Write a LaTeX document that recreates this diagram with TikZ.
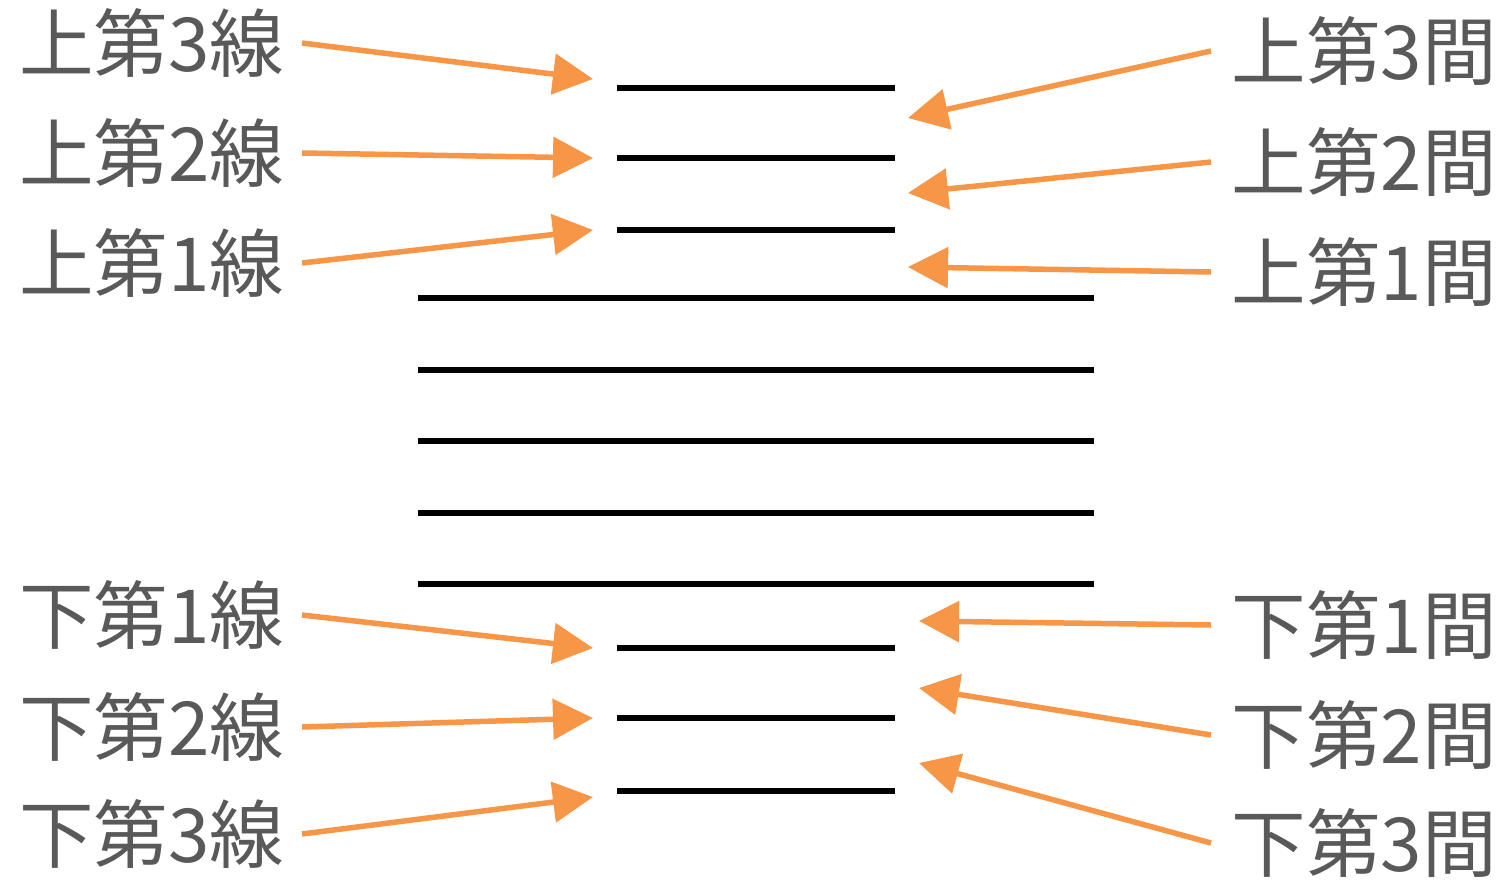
\documentclass[tikz,border=0pt]{standalone}
\usepackage{fontspec}
\setmainfont{Noto Sans CJK JP}
\usepackage{xcolor}
\usetikzlibrary{arrows.meta}
\definecolor{labelgray}{HTML}{595959}
\definecolor{arroworange}{HTML}{F79646}

\begin{document}
\begin{tikzpicture}[x=0.01cm, y=-0.01cm]
    %Line and label styles
    \tikzstyle{staffline} = [line width=0.06cm, black]
    \tikzstyle{ledger} = [line width=0.06cm, black]
    \tikzstyle{lname} = [text=labelgray, font=\fontsize{21.2}{21.2}\selectfont, inner xsep=0.17cm, anchor=east]
    \tikzstyle{rname} = [text=labelgray, font=\fontsize{21.2}{21.2}\selectfont, inner xsep=0.2cm, anchor=west]
    \tikzstyle{pointer} = [draw=arroworange, line width=0.055cm, -{Triangle[length=0.4cm, width=0.4cm]}]

    \useasboundingbox (0,0) rectangle (1501,879);

    %Staff
    \foreach \y in {298,370,441,513,584}
        \draw[staffline] (418,\y) -- (1094,\y);
    %Ledger lines
    \foreach \y in {88,158,230,648,718,791}
        \draw[ledger] (617,\y) -- (895,\y);

    %Line names
    \node[lname] at (302,43) (up3line) {上第3線};
    \node[lname] at (302,153) (up2line) {上第2線};
    \node[lname] at (302,263) (up1line) {上第1線};
    \node[lname] at (302,615) (lo1line) {下第1線};
    \node[lname] at (302,727) (lo2line) {下第2線};
    \node[lname] at (302,834) (lo3line) {下第3線};

    %Space names
    \node[rname] at (1211,51) (up3space) {上第3間};
    \node[rname] at (1211,162) (up2space) {上第2間};
    \node[rname] at (1211,272) (up1space) {上第1間};
    \node[rname] at (1211,625) (lo1space) {下第1間};
    \node[rname] at (1211,735) (lo2space) {下第2間};
    \node[rname] at (1211,843) (lo3space) {下第3間};

    %Arrow tips
    \coordinate (up3linetip) at (593,79);
    \coordinate (up2linetip) at (593,158);
    \coordinate (up1linetip) at (593,230);
    \coordinate (lo1linetip) at (593,648);
    \coordinate (lo2linetip) at (593,718);
    \coordinate (lo3linetip) at (593,797);
    \coordinate (up3spacetip) at (908,118);
    \coordinate (up2spacetip) at (908,193);
    \coordinate (up1spacetip) at (908,267);
    \coordinate (lo1spacetip) at (919,621);
    \coordinate (lo2spacetip) at (919,688);
    \coordinate (lo3spacetip) at (919,763);

    \draw[pointer] (up3line.east) -- (up3linetip);
    \draw[pointer] (up2line.east) -- (up2linetip);
    \draw[pointer] (up1line.east) -- (up1linetip);
    \draw[pointer] (lo1line.east) -- (lo1linetip);
    \draw[pointer] (lo2line.east) -- (lo2linetip);
    \draw[pointer] (lo3line.east) -- (lo3linetip);
    \draw[pointer] (up3space.west) -- (up3spacetip);
    \draw[pointer] (up2space.west) -- (up2spacetip);
    \draw[pointer] (up1space.west) -- (up1spacetip);
    \draw[pointer] (lo1space.west) -- (lo1spacetip);
    \draw[pointer] (lo2space.west) -- (lo2spacetip);
    \draw[pointer] (lo3space.west) -- (lo3spacetip);
\end{tikzpicture}
\end{document}
